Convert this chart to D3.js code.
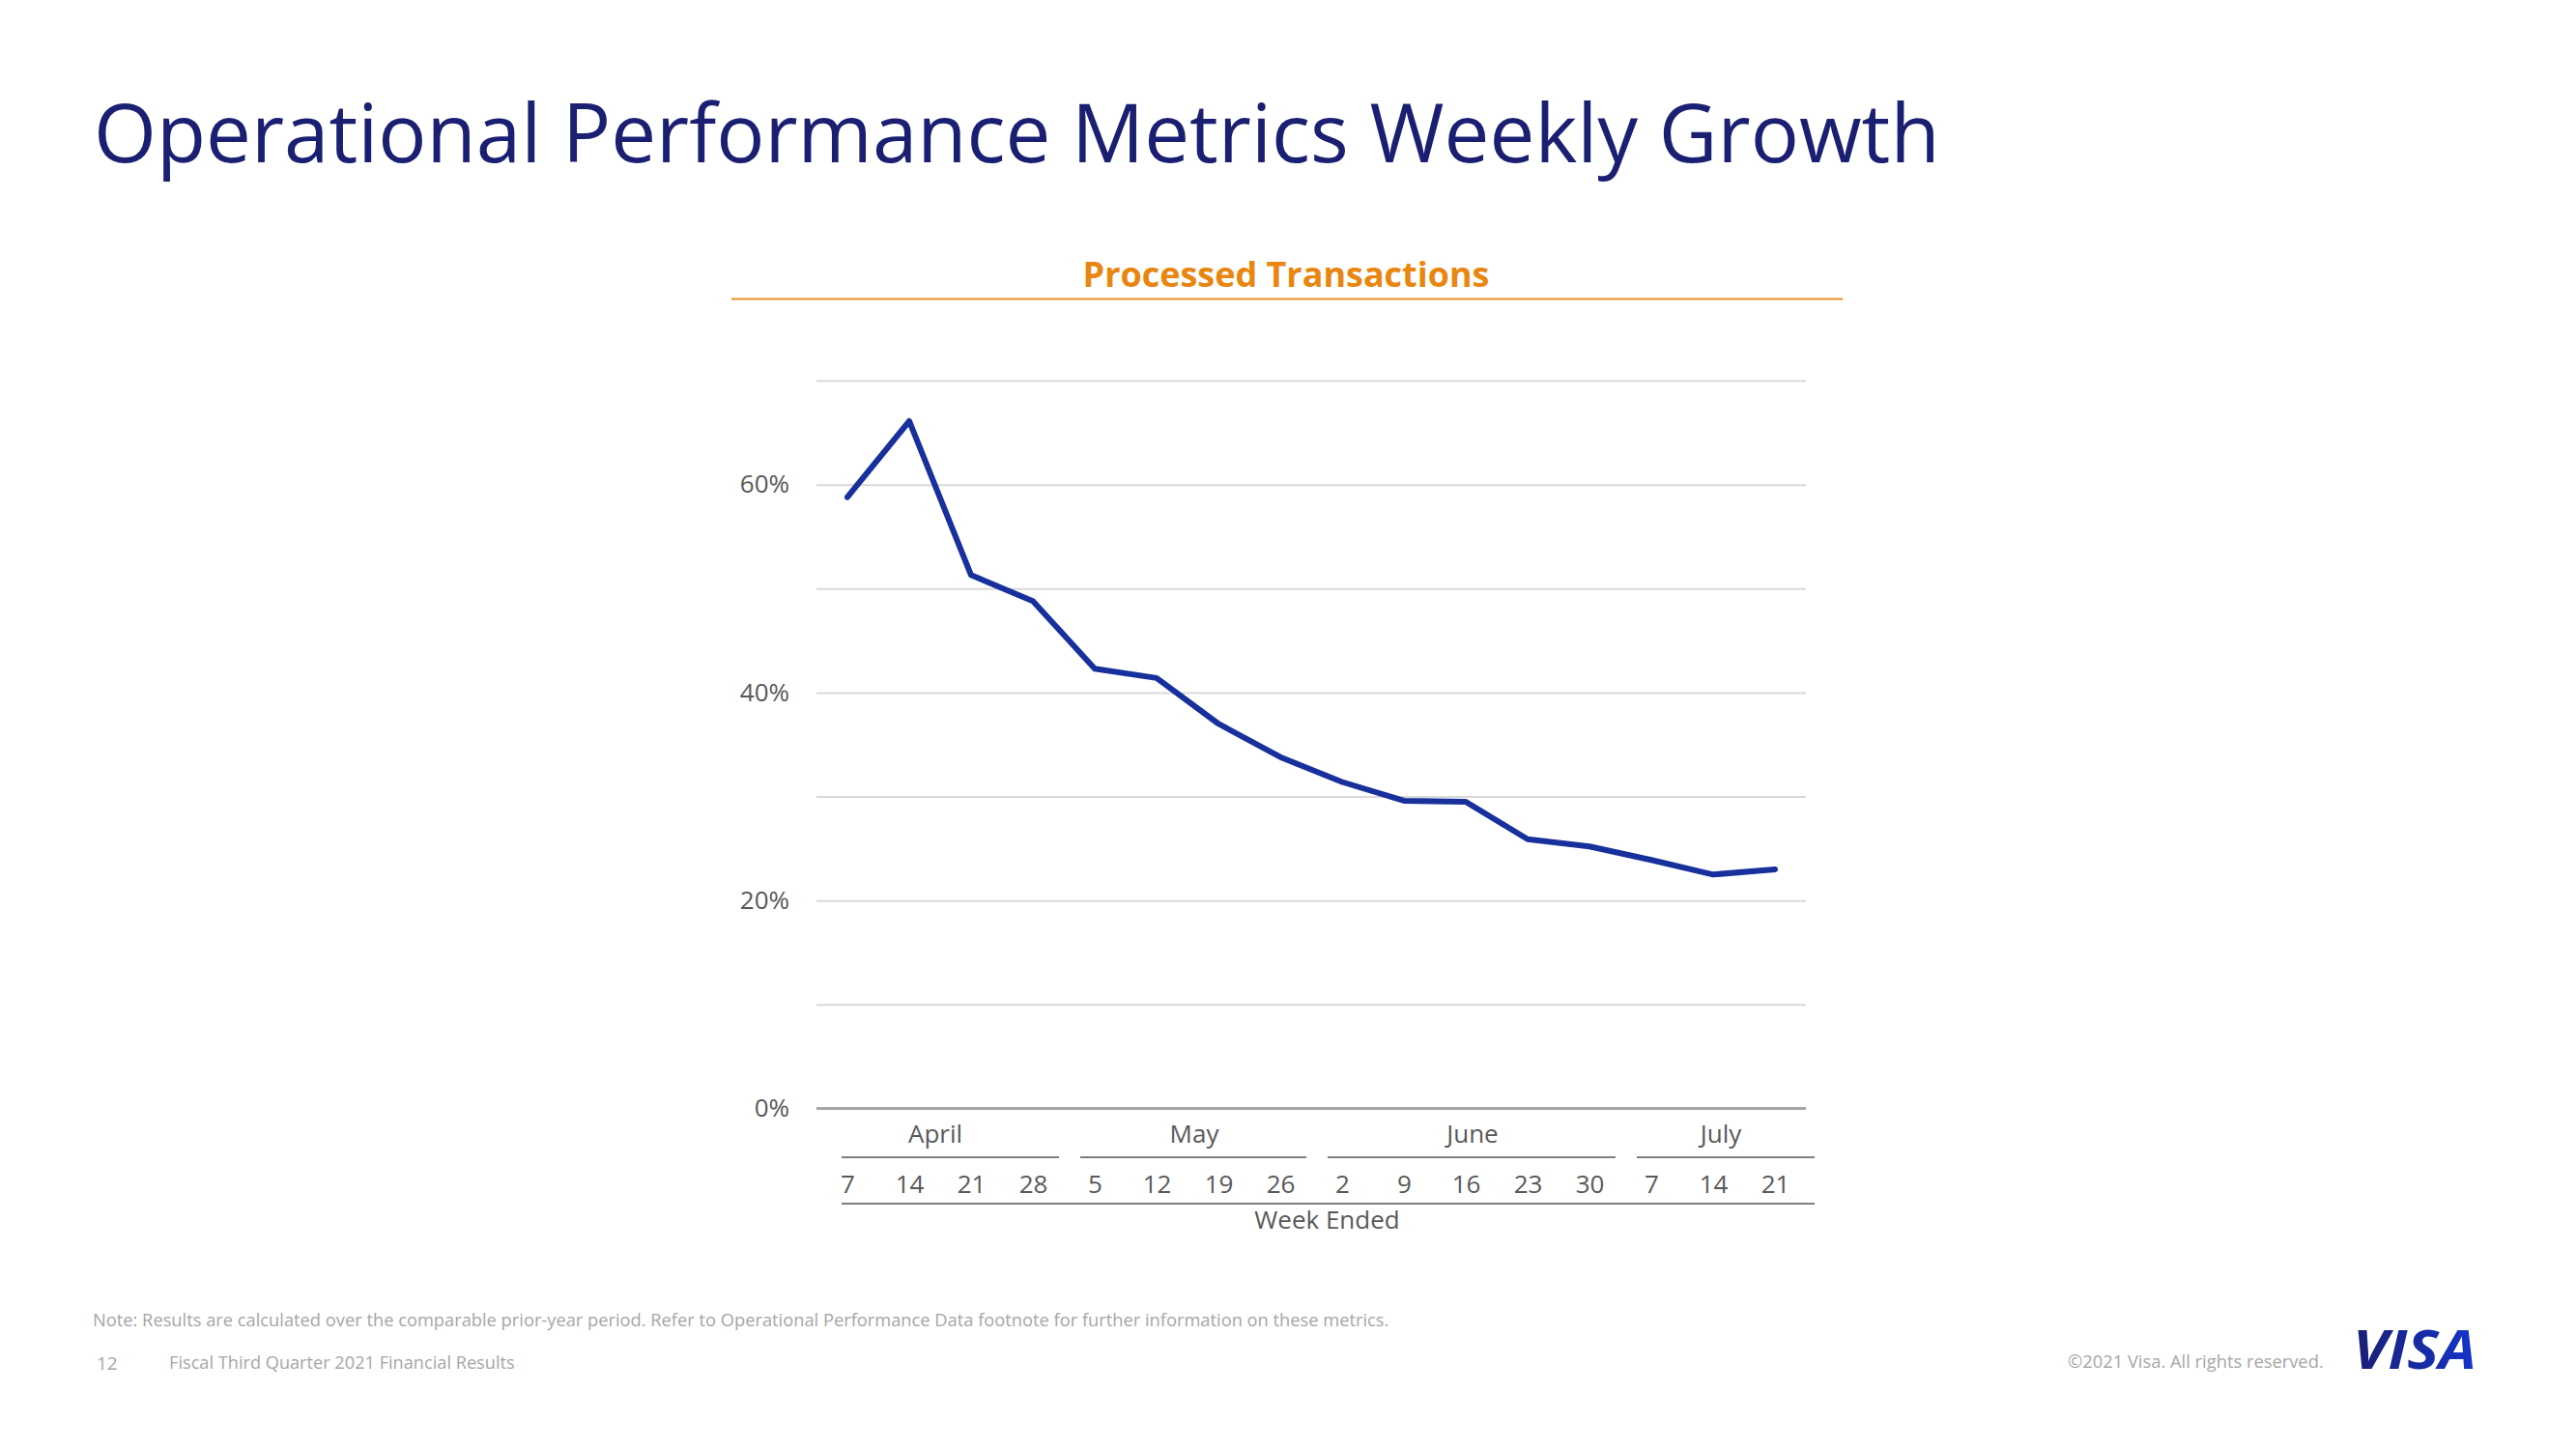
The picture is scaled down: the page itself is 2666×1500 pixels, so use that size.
<!DOCTYPE html>
<html>
<head>
<meta charset="utf-8">
<script src="https://cdn.jsdelivr.net/npm/d3@7"></script>
<style>
  html, body { margin: 0; padding: 0; background: #ffffff; }
  svg { display: block; }
  text { font-family: "Open Sans", "Noto Sans", sans-serif; }
</style>
</head>
<body>
<svg id="chart" width="2666" height="1500"></svg>
<script>
// ---------- data ----------
const titleText = "Operational Performance Metrics Weekly Growth";
const chartTitle = "Processed Transactions";
const months = ["April", "May", "June", "July"];
const weekDays = [7, 14, 21, 28, 5, 12, 19, 26, 2, 9, 16, 23, 30, 7, 14, 21];
const weekMonths = ["April","April","April","April","May","May","May","May",
                    "June","June","June","June","June","July","July","July"];
const growth = [58.8, 66.1, 51.3, 48.8, 42.3, 41.4, 37.0, 33.8,
                31.4, 29.6, 29.5, 25.9, 25.2, 23.9, 22.5, 23.0];
const gridTicks = [0, 10, 20, 30, 40, 50, 60, 70];
const labelTicks = [0, 20, 40, 60];
const xAxisTitle = "Week Ended";
const noteText = "Note: Results are calculated over the comparable prior-year period. Refer to Operational Performance Data footnote for further information on these metrics.";
const pageNum = "12";
const footerText = "Fiscal Third Quarter 2021 Financial Results";
const copyrightText = "\u00A92021 Visa. All rights reserved.";

// ---------- layout ----------
const svg = d3.select("#chart");
const plotLeft = 845, plotRight = 1869, plotTop = 394, plotBottom = 1147.5;
const monthLabelShift = [-5, 7, 7, 8];

const x = d3.scaleBand().domain(d3.range(weekDays.length)).range([plotLeft, plotRight]);
const xc = i => x(i) + x.bandwidth() / 2;
const y = d3.scaleLinear().domain([0, 70]).range([plotBottom, plotTop]);

function fitText(sel, target) {
  const w = sel.node().getComputedTextLength();
  const fs = parseFloat(sel.attr("font-size"));
  sel.attr("font-size", fs * target / w);
}

// Title
const t = svg.append("text").attr("x", 97).attr("y", 168)
  .attr("font-size", 90).attr("fill", "#1A1F71").text(titleText);
fitText(t, 1911);

// Chart title
const ct = svg.append("text").attr("x", 1331).attr("y", 297)
  .attr("text-anchor", "middle").attr("font-size", 36).attr("font-weight", 700)
  .attr("fill", "#E8860F").text(chartTitle);
fitText(ct, 421);
svg.append("line").attr("x1", 757).attr("x2", 1907).attr("y1", 309.5).attr("y2", 309.5)
  .attr("stroke", "#E8901F").attr("stroke-width", 2);

// gridlines
const grid = svg.append("g").attr("transform", `translate(${plotLeft},0)`)
  .call(d3.axisLeft(y).tickValues(gridTicks.filter(d => d > 0)).tickSize(-(plotRight - plotLeft)).tickFormat(""));
grid.select(".domain").remove();
grid.selectAll(".tick line").attr("stroke", "#D9D9D9").attr("stroke-width", 2);

// zero axis line
svg.append("line").attr("x1", plotLeft).attr("x2", plotRight)
  .attr("y1", y(0)).attr("y2", y(0)).attr("stroke", "#A6A6A6").attr("stroke-width", 3);

// y labels
const yl = svg.append("g").attr("transform", `translate(817,0)`)
  .call(d3.axisLeft(y).tickValues(labelTicks).tickSize(0).tickPadding(0).tickFormat(d => d + "%"));
yl.select(".domain").remove();
yl.selectAll("text").attr("font-size", 26).attr("fill", "#595959")
  .attr("font-family", "'Open Sans', sans-serif");

// line
const line = d3.line().x((d, i) => xc(i)).y(d => y(d));
svg.append("path").datum(growth).attr("d", line)
  .attr("fill", "none").attr("stroke", "#17309C").attr("stroke-width", 6)
  .attr("stroke-linejoin", "round").attr("stroke-linecap", "round");

// week labels
const xp = d3.scalePoint().domain(d3.range(weekDays.length)).range([xc(0), xc(weekDays.length - 1)]);
const xa = svg.append("g").attr("transform", `translate(0,1235)`)
  .call(d3.axisBottom(xp).tickSize(0).tickPadding(0).tickFormat(i => weekDays[i]));
xa.select(".domain").remove();
xa.selectAll("text").attr("dy", 0).attr("font-size", 26).attr("fill", "#595959")
  .attr("font-family", "'Open Sans', sans-serif");

// month groups
const groups = months.map(m => {
  const idx = d3.range(weekDays.length).filter(i => weekMonths[i] === m);
  return { m, first: idx[0], last: idx[idx.length - 1] };
});
const step = xp.step();
groups.forEach((g, k) => {
  const left = k === 0 ? xp(g.first) - 6 : (xp(g.first) - step / 2 + 6) + 11;
  const right = k === groups.length - 1 ? xp(g.last) + 41 : (xp(g.last) + step / 2 + 6) - 11;
  svg.append("line").attr("x1", left).attr("x2", right).attr("y1", 1198).attr("y2", 1198)
    .attr("stroke", "#7F7F7F").attr("stroke-width", 2);
  svg.append("text").attr("x", (xp(g.first) + xp(g.last)) / 2 + monthLabelShift[k]).attr("y", 1183)
    .attr("text-anchor", "middle").attr("font-size", 26).attr("fill", "#595959").text(g.m);
});
const bl = xp(0) - 6, br = xp(weekDays.length - 1) + 41;
svg.append("line").attr("x1", bl).attr("x2", br).attr("y1", 1246).attr("y2", 1246)
  .attr("stroke", "#7F7F7F").attr("stroke-width", 2);
svg.append("text").attr("x", (bl + br) / 2 - 1).attr("y", 1272).attr("text-anchor", "middle")
  .attr("font-size", 26).attr("fill", "#595959").text(xAxisTitle);

// footer
const nt = svg.append("text").attr("x", 96).attr("y", 1373).attr("font-size", 17)
  .attr("fill", "#A6A6A6").text(noteText);
fitText(nt, 1342);
svg.append("text").attr("x", 100).attr("y", 1418).attr("font-size", 19)
  .attr("fill", "#A6A6A6").text(pageNum);
const ft = svg.append("text").attr("x", 175).attr("y", 1417).attr("font-size", 17)
  .attr("fill", "#A6A6A6").text(footerText);
fitText(ft, 358);
const cr = svg.append("text").attr("x", 2140).attr("y", 1416).attr("font-size", 17)
  .attr("fill", "#A6A6A6").text(copyrightText);
fitText(cr, 265);

// VISA logo (text)
const defs = svg.append("defs");
const grad = defs.append("linearGradient").attr("id", "visaGrad")
  .attr("x1", "0%").attr("x2", "100%").attr("y1", "0%").attr("y2", "0%");
grad.append("stop").attr("offset", "0%").attr("stop-color", "#1A1F71");
grad.append("stop").attr("offset", "100%").attr("stop-color", "#1434CB");
svg.append("text").attr("x", 2435).attr("y", 1417)
  .attr("font-family", "'Liberation Sans', Arial, sans-serif")
  .attr("font-size", 56).attr("font-weight", 700).attr("font-style", "italic")
  .attr("fill", "url(#visaGrad)").attr("textLength", 128).attr("lengthAdjust", "spacingAndGlyphs")
  .text("VISA");
</script>
</body>
</html>
